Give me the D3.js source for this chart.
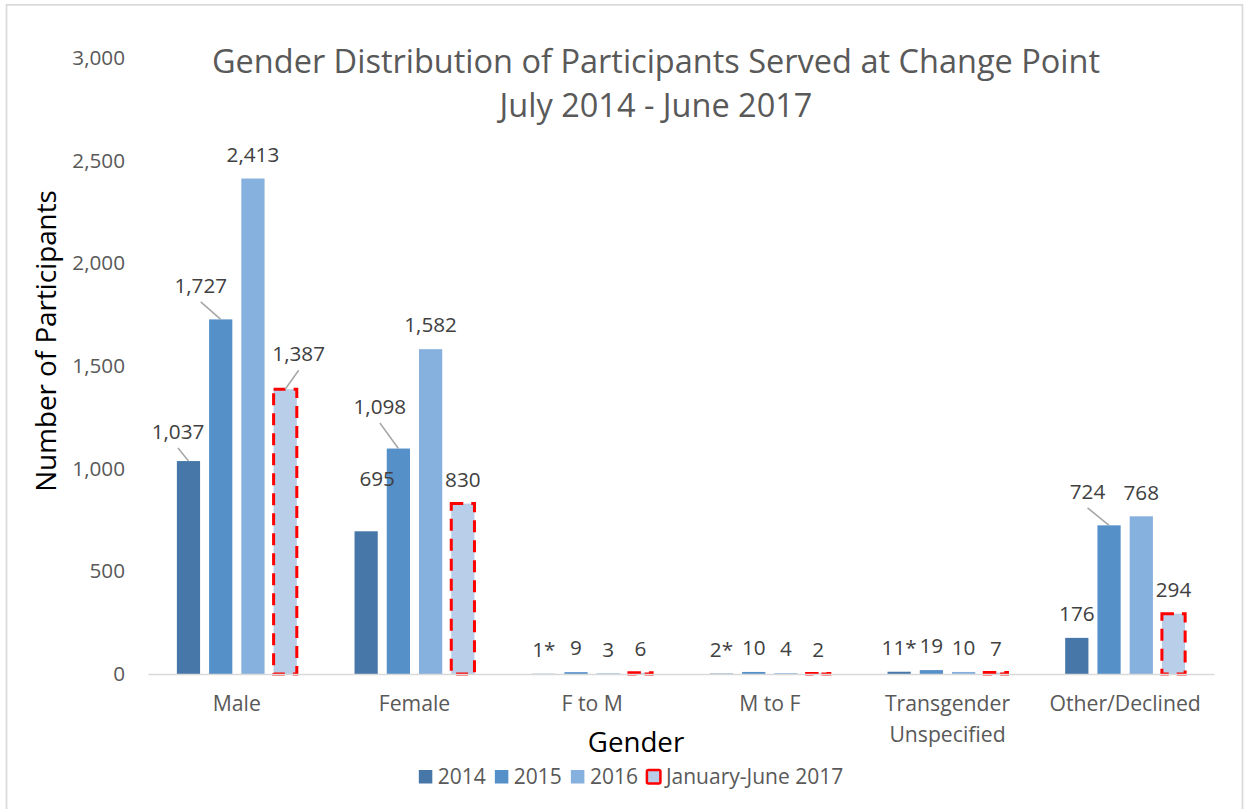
<!DOCTYPE html>
<html>
<head>
<meta charset="utf-8">
<script src="https://cdn.jsdelivr.net/npm/d3@7"></script>
<style>
  html, body { margin: 0; padding: 0; background: #fff; }
  svg { display: block; }
  text { font-family: "Open Sans", "Liberation Sans", sans-serif; }
</style>
</head>
<body>
<svg id="chart" width="1244" height="809"></svg>
<script>
// ---- data ----
const categories = ["Male", "Female", "F to M", "M to F", "Transgender Unspecified", "Other/Declined"];
const seriesNames = ["2014", "2015", "2016", "January-June 2017"];
const values2014 = [1037, 695, 1, 2, 11, 176];
const values2015 = [1727, 1098, 9, 10, 19, 724];
const values2016 = [2413, 1582, 3, 4, 10, 768];
const values2017 = [1387, 830, 6, 2, 7, 294];
const suffix2014 = ["", "", "*", "*", "*", ""];
const yTicks = [0, 500, 1000, 1500, 2000, 2500, 3000];

// ---- layout / style config ----
const FONT = '"Open Sans","Liberation Sans",sans-serif';
const colors = ["#4677a8", "#5590c9", "#86b0de", "#b8cee9"];
// label shifts (label centre relative to bar-top centre) for moved labels
const labelShift = {
  "2014|Male": { dx: -10.5, dy: -29, leader: true },
  "2015|Male": { dx: -20, dy: -33.5, leader: true },
  "January-June 2017|Male": { dx: 13.5, dy: -35, leader: true },
  "2014|Female": { dx: 11, dy: -53, leader: false },
  "2015|Female": { dx: -18.5, dy: -41.5, leader: true },
  "2015|Other/Declined": { dx: -21.5, dy: -33.5, leader: true }
};

const seriesValues = [values2014, values2015, values2016, values2017];
const rows = [];
categories.forEach((c, ci) => {
  seriesNames.forEach((s, si) => {
    const v = seriesValues[si][ci];
    const suf = si === 0 ? suffix2014[ci] : "";
    rows.push({ cat: c, series: s, si, value: v, label: d3.format(",")(v) + suf });
  });
});

const svg = d3.select("#chart");

// outer frame
svg.append("rect").attr("x", 6.5).attr("y", 4.8).attr("width", 1236).attr("height", 830)
  .attr("fill", "none").attr("stroke", "#d9d9d9").attr("stroke-width", 1.7);

const plot = { left: 148, right: 1214, top: 58, bottom: 674 };

const x0 = d3.scaleBand().domain(categories).range([plot.left, plot.right]).paddingInner(0).paddingOuter(0);
const x1 = d3.scaleBand().domain(seriesNames).range([0, x0.bandwidth()]).paddingInner(0.28).paddingOuter(0.895);
const y = d3.scaleLinear().domain([0, 3000]).range([plot.bottom, plot.top]);

// y tick labels (no gridlines)
const yAxis = d3.axisLeft(y).tickValues(yTicks).tickFormat(d3.format(",")).tickSize(0).tickPadding(0);
const yG = svg.append("g").attr("transform", `translate(125,0)`).call(yAxis);
yG.select(".domain").remove();
yG.selectAll("text").attr("font-size", 20.7).attr("fill", "#595959").style("font-family", FONT);

// bars
const bars = svg.append("g");
bars.selectAll("rect").data(rows).join("rect")
  .attr("x", d => x0(d.cat) + x1(d.series))
  .attr("y", d => y(d.value))
  .attr("width", x1.bandwidth())
  .attr("height", d => y(0) - y(d.value))
  .attr("fill", d => colors[d.si])
  .attr("stroke", d => d.si === 3 ? "#ff0000" : "none")
  .attr("stroke-width", d => d.si === 3 ? 3 : 0)
  .attr("stroke-dasharray", d => d.si === 3 ? "12,8" : null);

// x axis line
const xAxis = d3.axisBottom(x0).tickSize(0).tickFormat("");
const xG = svg.append("g").attr("transform", `translate(0,${plot.bottom})`).call(xAxis);
xG.select(".domain").attr("stroke", "#d9d9d9").attr("stroke-width", 1.5);

// category labels
const catG = svg.append("g");
categories.forEach(c => {
  const parts = c === "Transgender Unspecified" ? ["Transgender", "Unspecified"] : [c];
  const t = catG.append("text")
    .attr("x", x0(c) + x0.bandwidth() / 2)
    .attr("y", 711)
    .attr("text-anchor", "middle")
    .attr("font-size", 21.2)
    .attr("fill", "#595959");
  parts.forEach((p, i) => {
    t.append("tspan").attr("x", x0(c) + x0.bandwidth() / 2).attr("dy", i === 0 ? 0 : 31).text(p);
  });
});

// value labels + leaders
const lab = svg.append("g");
rows.forEach(d => {
  const bx = x0(d.cat) + x1(d.series) + x1.bandwidth() / 2;
  const by = y(d.value);
  const sh = labelShift[d.series + "|" + d.cat] || { dx: 0, dy: -24, leader: false };
  const lx = bx + sh.dx, ly = by + sh.dy;
  if (sh.leader) {
    lab.append("line").attr("x1", lx).attr("y1", ly + 16).attr("x2", bx).attr("y2", by)
      .attr("stroke", "#a6a6a6").attr("stroke-width", 1.5);
  }
  lab.append("text").attr("x", lx).attr("y", ly).attr("dy", "0.35em")
    .attr("text-anchor", "middle").attr("font-size", 20.7).attr("fill", "#404040")
    .text(d.label);
});

// title
const title = svg.append("text").attr("text-anchor", "middle").attr("font-size", 32.5).attr("fill", "#595959");
title.append("tspan").attr("x", 656).attr("y", 73).text("Gender Distribution of Participants Served at Change Point");
title.append("tspan").attr("x", 656).attr("y", 117).text("July 2014 - June 2017");

// axis titles
svg.append("text").attr("transform", "translate(56,341) rotate(-90)")
  .attr("text-anchor", "middle").attr("font-size", 27.8).attr("fill", "#000").text("Number of Participants");
svg.append("text").attr("x", 636).attr("y", 752)
  .attr("text-anchor", "middle").attr("font-size", 27.7).attr("fill", "#000").text("Gender");

// legend
const leg = svg.append("g");
let cx = 0;
seriesNames.forEach((s, i) => {
  const g = leg.append("g").attr("transform", `translate(${cx},0)`);
  g.append("rect").attr("x", 0).attr("y", -7).attr("width", 13.5).attr("height", 13.5)
    .attr("fill", colors[i])
    .attr("stroke", i === 3 ? "#ff0000" : "none").attr("stroke-width", i === 3 ? 2.5 : 0)
    .attr("rx", i === 3 ? 1.5 : 0);
  const t = g.append("text").attr("x", 19).attr("y", 0).attr("dy", "0.35em")
    .attr("font-size", 21).attr("fill", "#595959").text(s);
  const w = t.node().getComputedTextLength();
  cx += 19 + w + 9;
});
const legW = cx - 9;
leg.attr("transform", `translate(${631 - legW / 2},777)`);
</script>
</body>
</html>
